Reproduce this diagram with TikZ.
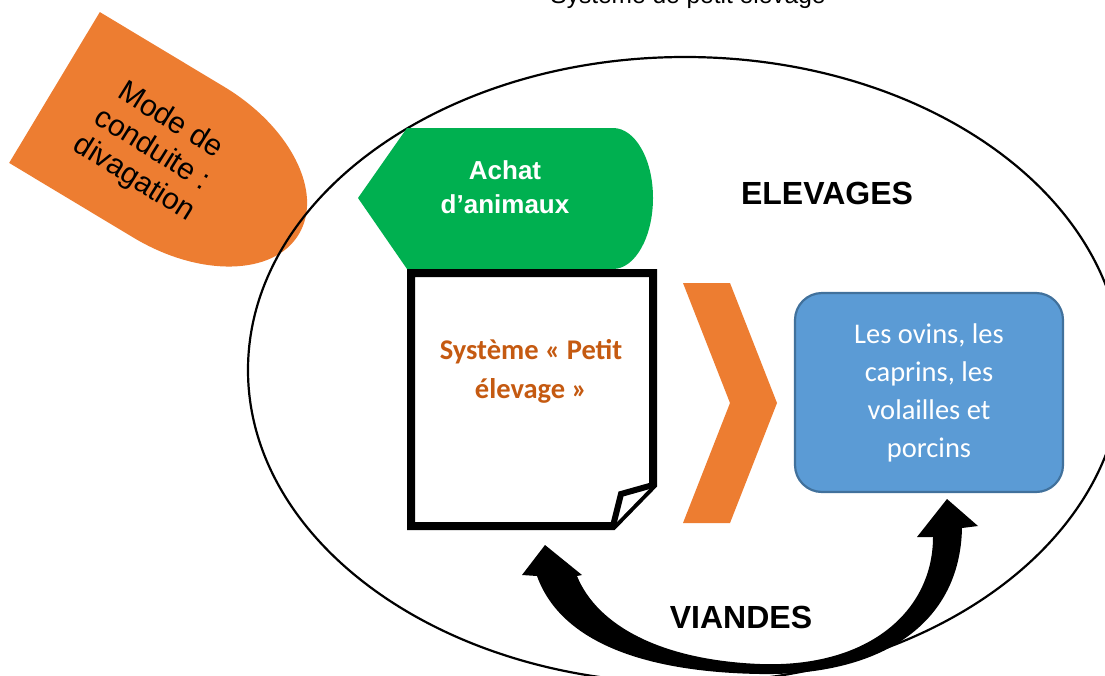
\documentclass[tikz,border=0pt]{standalone}
\usepackage{fontspec}
\setmainfont{Liberation Sans}
\newfontfamily\calib{Carlito}
\usetikzlibrary{shapes.geometric}
\definecolor{orangeA}{HTML}{ED7D31}
\definecolor{greenA}{HTML}{00B050}
\definecolor{blueA}{HTML}{5B9BD5}
\definecolor{blueB}{HTML}{41719C}
\definecolor{brownA}{HTML}{C55A11}
\tikzset{
  orangeshape/.style={fill=orangeA},
  greenshape/.style={fill=greenA},
  docbox/.style={draw=black, line width=8pt, miter limit=10, fill=white},
  foldline/.style={draw=black, line width=6pt, fill=white},
  bluebox/.style={draw=blueB, line width=2.2pt, fill=blueA, rounded corners=27pt,
     minimum width=268pt, minimum height=199pt, inner sep=0pt},
  bigoval/.style={draw=black, line width=2.2pt, ellipse, minimum width=874pt,
     minimum height=626pt, inner sep=0pt},
  bigarrow/.style={fill=black},
  titlelbl/.style={font=\bfseries\fontsize{32}{38}\selectfont, inner sep=0pt},
}
\begin{document}
\begin{tikzpicture}[x=1pt,y=-1pt]
\useasboundingbox (0,0) rectangle (1105,675);
\fill[white] (0,0) rectangle (1105,675);

% title cut at top
\node[anchor=base, inner sep=0pt, font=\fontsize{24.5}{29}\selectfont] (title) at (688,3) {Système de petit élevage};

% orange "Mode de conduite" shape
\begin{scope}[shift={(54.5,87.5)}, rotate=-31]
  \fill[orangeshape] (0,-88) -- (145,-88)
     .. controls (222.3,-88) and (285,-48.6) .. (285,0)
     .. controls (285,48.6) and (222.3,88) .. (145,88)
     -- (0,88) -- cycle;
\end{scope}
\node[rotate=-32, align=center, inner sep=0pt, font=\fontsize{30}{34}\selectfont] (mode) at (152,150) {Mode de\\conduite :\\divagation};

% big ellipse
\node[bigoval] (elev) at (685,370) {};
\node[titlelbl, anchor=base] (elevlbl) at (827,204) {ELEVAGES};

% green shape
\fill[greenshape] (358,198) -- (407,128) -- (613,128)
   .. controls (635.1,128) and (653,159.1) .. (653,198)
   .. controls (653,236.9) and (635.1,269) .. (613,269)
   -- (407,269) -- cycle;
\node[align=center, text=white, inner sep=0pt, font=\bfseries\fontsize{26}{34}\selectfont] (achat) at (505,187.5) {Achat\\d’animaux};

% document box
\draw[docbox] (411,273) -- (653,273) -- (653,485) -- (613,526) -- (411,526) -- cycle;
\draw[foldline] (653,485) -- (621,494) -- (613,526);
\node[align=center, text=brownA, inner sep=0pt, font=\calib\bfseries\fontsize{28.5}{39}\selectfont] (sys) at (531,371) {Système «~Petit\\élevage »};

% chevron
\fill[orangeshape] (683,283) -- (730,283) -- (777,403) -- (730,523) -- (683,523) -- (730,403) -- cycle;

% blue box
\node[bluebox, align=center, text=white, font=\calib\fontsize{28.5}{38}\selectfont] (anim) at (929,392.5) {Les ovins, les\\caprins, les\\volailles et\\porcins};

% curved double arrow
\fill[bigarrow] (545,545) -- (582,575) -- (577,576)
   .. controls (597,625) and (660,660) .. (760,664)
   .. controls (870,668) and (933,610) .. (933,537)
   -- (917,537) -- (947,499) -- (978,526) -- (962,528)
   .. controls (960,625) and (880,676) .. (760,674)
   .. controls (640,672) and (560,640) .. (537,576)
   -- (522,575) -- cycle;
\node[titlelbl, anchor=base] (viandes) at (741,628) {VIANDES};
\end{tikzpicture}
\end{document}
